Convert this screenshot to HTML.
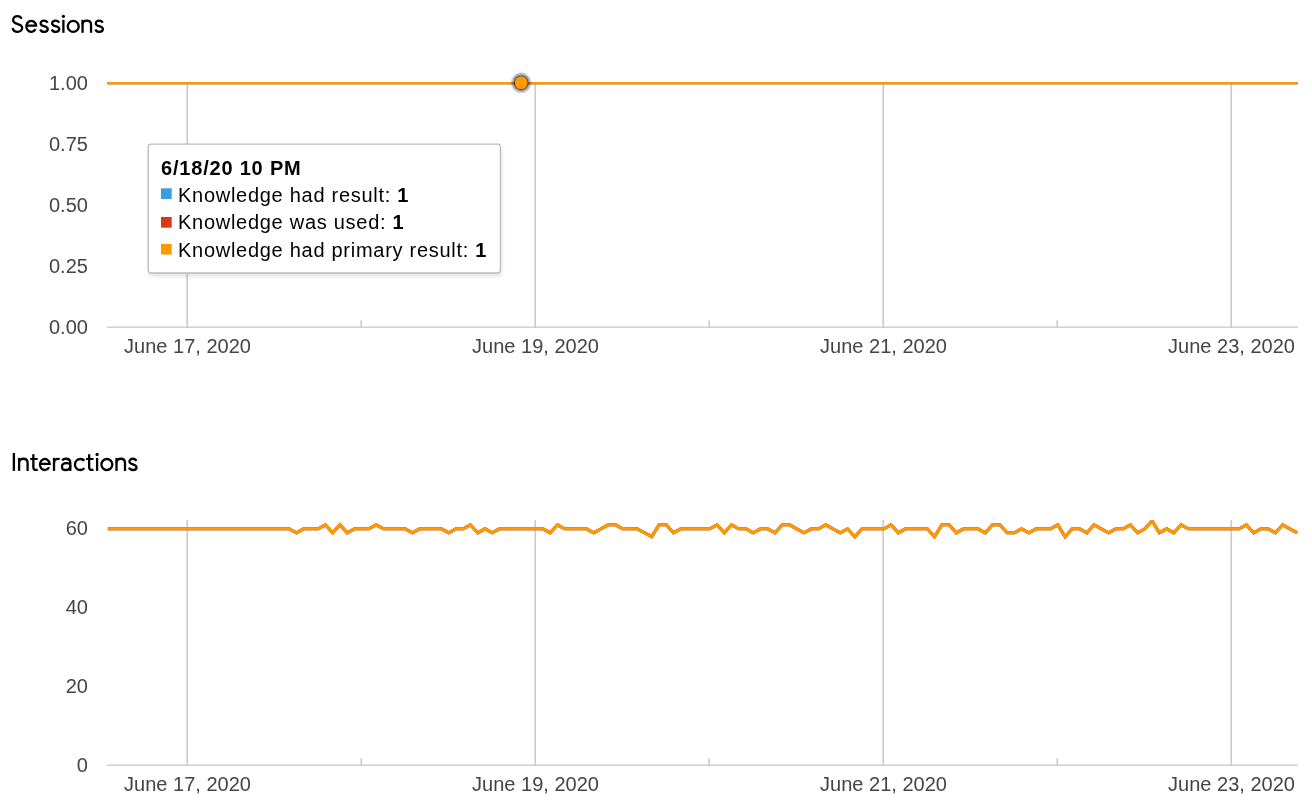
<!DOCTYPE html>
<html><head><meta charset="utf-8"><title>Charts</title>
<style>
html,body{margin:0;padding:0;background:#fff;}
body{width:1312px;height:812px;position:relative;overflow:hidden;font-family:"Liberation Sans",sans-serif;}
svg{position:absolute;left:0;top:0;}
svg text{font-family:"Liberation Sans",sans-serif;font-size:20px;fill:#444;}
svg .tt text{fill:#000;letter-spacing:0.72px;}
#wrap{position:absolute;left:0;top:0;width:1312px;height:812px;will-change:transform;background:#fff;}
</style></head><body><div id="wrap">

<svg width="1312" height="812" viewBox="0 0 1312 812">
<g role="img" aria-label="Sessions" fill="none" stroke="#000" stroke-width="2.3"><title>Sessions</title>
<g transform="translate(11.96,32.8)"><path d="M9.64,-14.1 C8.94,-15.7 7.44,-16.75 5.44,-16.75 C3.04,-16.75 1.19,-15.1 1.19,-12.9 C1.19,-10.7 2.84,-9.7 5.34,-8.9 C8.24,-8.0 10.19,-7.2 10.19,-5.1 C10.19,-2.6 8.14,-0.9 5.54,-0.9 C3.04,-0.9 1.24,-2.4 0.54,-4.6"/></g>
<g transform="translate(25.24,32.8)"><path d="M1.1,-7.1 H10.83 A4.89,5.5 0 1 0 10.2,-3.65"/></g>
<g transform="translate(39.1,32.8)"><path d="M8.4,-10.0 C7.8,-11.3 6.6,-12.13 4.9,-12.13 C3.0,-12.13 1.55,-11.0 1.55,-9.4 C1.55,-7.8 2.9,-7.2 5.0,-6.6 C7.3,-5.95 8.65,-5.3 8.65,-3.7 C8.65,-2.0 7.1,-0.9 5.0,-0.9 C3.1,-0.9 1.7,-1.8 1.1,-3.3"/></g>
<g transform="translate(50.6,32.8)"><path d="M8.4,-10.0 C7.8,-11.3 6.6,-12.13 4.9,-12.13 C3.0,-12.13 1.55,-11.0 1.55,-9.4 C1.55,-7.8 2.9,-7.2 5.0,-6.6 C7.3,-5.95 8.65,-5.3 8.65,-3.7 C8.65,-2.0 7.1,-0.9 5.0,-0.9 C3.1,-0.9 1.7,-1.8 1.1,-3.3"/></g>
<g transform="translate(62.25,32.8)"><path d="M1.15,-13 V0"/><circle cx="1.15" cy="-16.45" r="1.62" fill="#000" stroke="none"/></g>
<g transform="translate(66.7,32.8)"><ellipse cx="6.55" cy="-6.4" rx="5.45" ry="5.5"/></g>
<g transform="translate(81.5,32.8)"><path d="M1.05,-13 V0"/><path d="M1.05,-8.4 C1.05,-10.7 3.0,-12.13 5.3,-12.13 C7.9,-12.13 9.55,-10.5 9.55,-8.0 V0"/></g>
<g transform="translate(94.25,32.8)"><path d="M8.4,-10.0 C7.8,-11.3 6.6,-12.13 4.9,-12.13 C3.0,-12.13 1.55,-11.0 1.55,-9.4 C1.55,-7.8 2.9,-7.2 5.0,-6.6 C7.3,-5.95 8.65,-5.3 8.65,-3.7 C8.65,-2.0 7.1,-0.9 5.0,-0.9 C3.1,-0.9 1.7,-1.8 1.1,-3.3"/></g>
</g>
<g role="img" aria-label="Interactions" fill="none" stroke="#000" stroke-width="2.3"><title>Interactions</title>
<g transform="translate(12.78,470.9)"><path d="M1.1,-17.9 V0" stroke-width="2.35"/></g>
<g transform="translate(18.05,470.9)"><path d="M1.05,-13 V0"/><path d="M1.05,-8.4 C1.05,-10.7 3.0,-12.13 5.3,-12.13 C7.9,-12.13 9.55,-10.5 9.55,-8.0 V0"/></g>
<g transform="translate(30.2,470.9)"><path d="M3.15,-16.6 V-3.6 C3.15,-1.7 4.2,-0.95 5.6,-0.95 C6.3,-0.95 6.9,-1.1 7.4,-1.4"/><path d="M0,-11.95 H7.5" stroke-width="2.0"/></g>
<g transform="translate(38.84,470.9)"><path d="M1.1,-7.1 H10.83 A4.89,5.5 0 1 0 10.2,-3.65"/></g>
<g transform="translate(52.97,470.9)"><path d="M1.05,-13 V0"/><path d="M1.05,-8.0 C1.05,-10.5 2.9,-12.0 5.0,-12.0 C5.6,-12.0 6.2,-11.9 6.7,-11.7"/></g>
<g transform="translate(60.9,470.9)"><path d="M1.3,-10.4 C2.0,-11.5 3.4,-12.13 5.0,-12.13 C7.7,-12.13 9.4,-10.6 9.4,-8.0 V0"/><path d="M9.4,-7.0 C8.2,-7.5 7.0,-7.7 5.5,-7.7 C2.8,-7.7 1.08,-6.3 1.08,-4.25 C1.08,-2.2 2.7,-0.9 4.9,-0.9 C7.3,-0.9 9.4,-2.7 9.4,-5.2"/></g>
<g transform="translate(73.8,470.9)"><path d="M10.6,-10.1 A5.45,5.5 0 1 0 10.6,-2.7"/></g>
<g transform="translate(86.0,470.9)"><path d="M3.15,-16.6 V-3.6 C3.15,-1.7 4.2,-0.95 5.6,-0.95 C6.3,-0.95 6.9,-1.1 7.4,-1.4"/><path d="M0,-11.95 H7.5" stroke-width="2.0"/></g>
<g transform="translate(95.95,470.9)"><path d="M1.15,-13 V0"/><circle cx="1.15" cy="-16.45" r="1.62" fill="#000" stroke="none"/></g>
<g transform="translate(100.3,470.9)"><ellipse cx="6.55" cy="-6.4" rx="5.45" ry="5.5"/></g>
<g transform="translate(115.45,470.9)"><path d="M1.05,-13 V0"/><path d="M1.05,-8.4 C1.05,-10.7 3.0,-12.13 5.3,-12.13 C7.9,-12.13 9.55,-10.5 9.55,-8.0 V0"/></g>
<g transform="translate(127.87,470.9)"><path d="M8.4,-10.0 C7.8,-11.3 6.6,-12.13 4.9,-12.13 C3.0,-12.13 1.55,-11.0 1.55,-9.4 C1.55,-7.8 2.9,-7.2 5.0,-6.6 C7.3,-5.95 8.65,-5.3 8.65,-3.7 C8.65,-2.0 7.1,-0.9 5.0,-0.9 C3.1,-0.9 1.7,-1.8 1.1,-3.3"/></g>
</g>
<rect x="186.380" y="83" width="1.62" height="245.000" fill="#ccc"/>
<rect x="534.380" y="83" width="1.62" height="245.000" fill="#ccc"/>
<rect x="882.380" y="83" width="1.62" height="245.000" fill="#ccc"/>
<rect x="1230.380" y="83" width="1.62" height="245.000" fill="#ccc"/>
<rect x="360.380" y="320.300" width="1.62" height="7.7" fill="#ccc"/>
<rect x="708.380" y="320.300" width="1.62" height="7.7" fill="#ccc"/>
<rect x="1056.380" y="320.300" width="1.62" height="7.7" fill="#ccc"/>
<rect x="106.95" y="326.500" width="1191.05" height="1.38" fill="#ccc"/>
<text x="87.9" y="90" text-anchor="end">1.00</text>
<text x="87.9" y="151" text-anchor="end">0.75</text>
<text x="87.9" y="212" text-anchor="end">0.50</text>
<text x="87.9" y="273" text-anchor="end">0.25</text>
<text x="87.9" y="334" text-anchor="end">0.00</text>
<text x="187.5" y="353" text-anchor="middle">June 17, 2020</text>
<text x="187.5" y="791" text-anchor="middle">June 17, 2020</text>
<text x="535.5" y="353" text-anchor="middle">June 19, 2020</text>
<text x="535.5" y="791" text-anchor="middle">June 19, 2020</text>
<text x="883.5" y="353" text-anchor="middle">June 21, 2020</text>
<text x="883.5" y="791" text-anchor="middle">June 21, 2020</text>
<text x="1231.5" y="353" text-anchor="middle">June 23, 2020</text>
<text x="1231.5" y="791" text-anchor="middle">June 23, 2020</text>
<path d="M107.5,83.06L1297.6,83.06" stroke="#3a9fe1" stroke-width="2.18" fill="none"/>
<path d="M107.5,83.06L1297.6,83.06" stroke="#dc3912" stroke-width="2.18" fill="none"/>
<path d="M107.5,83.06L1297.6,83.06" stroke="#ff9900" stroke-width="2.18" fill="none"/>
<circle cx="521.15" cy="82.8" r="9.95" fill="none" stroke="#000" stroke-width="1.06" stroke-opacity="0.05"/>
<circle cx="521.15" cy="82.8" r="8.9" fill="none" stroke="#000" stroke-width="1.06" stroke-opacity="0.1"/>
<circle cx="521.15" cy="82.8" r="7.85" fill="none" stroke="#000" stroke-width="1.06" stroke-opacity="0.15"/>
<circle cx="521.15" cy="82.8" r="6.8" fill="none" stroke="#000" stroke-width="1.06" stroke-opacity="0.3"/>
<circle cx="521.15" cy="82.8" r="6.27" fill="#3a9fe1"/>
<circle cx="521.15" cy="82.8" r="9.95" fill="none" stroke="#000" stroke-width="1.06" stroke-opacity="0.05"/>
<circle cx="521.15" cy="82.8" r="8.9" fill="none" stroke="#000" stroke-width="1.06" stroke-opacity="0.1"/>
<circle cx="521.15" cy="82.8" r="7.85" fill="none" stroke="#000" stroke-width="1.06" stroke-opacity="0.15"/>
<circle cx="521.15" cy="82.8" r="6.8" fill="none" stroke="#000" stroke-width="1.06" stroke-opacity="0.3"/>
<circle cx="521.15" cy="82.8" r="6.27" fill="#dc3912"/>
<circle cx="521.15" cy="82.8" r="9.95" fill="none" stroke="#000" stroke-width="1.06" stroke-opacity="0.05"/>
<circle cx="521.15" cy="82.8" r="8.9" fill="none" stroke="#000" stroke-width="1.06" stroke-opacity="0.1"/>
<circle cx="521.15" cy="82.8" r="7.85" fill="none" stroke="#000" stroke-width="1.06" stroke-opacity="0.15"/>
<circle cx="521.15" cy="82.8" r="6.8" fill="none" stroke="#000" stroke-width="1.06" stroke-opacity="0.3"/>
<circle cx="521.15" cy="82.8" r="6.27" fill="#ff9900"/>
<rect x="186.380" y="520.0" width="1.62" height="246.000" fill="#ccc"/>
<rect x="534.380" y="520.0" width="1.62" height="246.000" fill="#ccc"/>
<rect x="882.380" y="520.0" width="1.62" height="246.000" fill="#ccc"/>
<rect x="1230.380" y="520.0" width="1.62" height="246.000" fill="#ccc"/>
<rect x="360.380" y="758.300" width="1.62" height="7.7" fill="#ccc"/>
<rect x="708.380" y="758.300" width="1.62" height="7.7" fill="#ccc"/>
<rect x="1056.380" y="758.300" width="1.62" height="7.7" fill="#ccc"/>
<rect x="106.95" y="764.500" width="1191.05" height="1.38" fill="#ccc"/>
<text x="87.9" y="535" text-anchor="end">60</text>
<text x="87.9" y="614" text-anchor="end">40</text>
<text x="87.9" y="693" text-anchor="end">20</text>
<text x="87.9" y="772" text-anchor="end">0</text>
<clipPath id="c2"><rect x="100" y="520.05" width="1205" height="250"/></clipPath>
<g clip-path="url(#c2)">
<path d="M107.87,528.8L115.12,528.8L122.38,528.8L129.63,528.8L136.88,528.8L144.13,528.8L151.38,528.8L158.63,528.8L165.89,528.8L173.14,528.8L180.39,528.8L187.64,528.8L194.89,528.8L202.14,528.8L209.39,528.8L216.65,528.8L223.9,528.8L231.15,528.8L238.4,528.8L245.65,528.8L252.9,528.8L260.16,528.8L267.41,528.8L274.66,528.8L281.91,528.8L289.16,528.8L296.41,532.75L303.67,528.8L310.92,528.8L318.17,528.8L325.42,524.85L332.67,532.75L339.92,524.85L347.18,532.75L354.43,528.8L361.68,528.8L368.93,528.8L376.18,524.85L383.43,528.8L390.68,528.8L397.94,528.8L405.19,528.8L412.44,532.75L419.69,528.8L426.94,528.8L434.19,528.8L441.45,528.8L448.7,532.75L455.95,528.8L463.2,528.8L470.45,524.85L477.7,532.75L484.96,528.8L492.21,532.75L499.46,528.8L506.71,528.8L513.96,528.8L521.21,528.8L528.47,528.8L535.72,528.8L542.97,528.8L550.22,532.75L557.47,524.85L564.72,528.8L571.97,528.8L579.23,528.8L586.48,528.8L593.73,532.75L600.98,528.8L608.23,524.85L615.48,524.85L622.74,528.8L629.99,528.8L637.24,528.8L644.49,532.75L651.74,536.69L658.99,524.85L666.25,524.85L673.5,532.75L680.75,528.8L688,528.8L695.25,528.8L702.5,528.8L709.76,528.8L717.01,524.85L724.26,532.75L731.51,524.85L738.76,528.8L746.01,528.8L753.26,532.75L760.52,528.8L767.77,528.8L775.02,532.75L782.27,524.85L789.52,524.85L796.77,528.8L804.03,532.75L811.28,528.8L818.53,528.8L825.78,524.85L833.03,528.8L840.28,532.75L847.54,528.8L854.79,536.69L862.04,528.8L869.29,528.8L876.54,528.8L883.79,528.8L891.05,524.85L898.3,532.75L905.55,528.8L912.8,528.8L920.05,528.8L927.3,528.8L934.55,536.69L941.81,524.85L949.06,524.85L956.31,532.75L963.56,528.8L970.81,528.8L978.06,528.8L985.32,532.75L992.57,524.85L999.82,524.85L1007.07,532.75L1014.32,532.75L1021.57,528.8L1028.83,532.75L1036.08,528.8L1043.33,528.8L1050.58,528.8L1057.83,524.85L1065.08,536.69L1072.34,528.8L1079.59,528.8L1086.84,532.75L1094.09,524.85L1101.34,528.8L1108.59,532.75L1115.84,528.8L1123.1,528.8L1130.35,524.85L1137.6,532.75L1144.85,528.8L1152.1,520.91L1159.35,532.75L1166.61,528.8L1173.86,532.75L1181.11,524.85L1188.36,528.8L1195.61,528.8L1202.86,528.8L1210.12,528.8L1217.37,528.8L1224.62,528.8L1231.87,528.8L1239.12,528.8L1246.37,524.85L1253.63,532.75L1260.88,528.8L1268.13,528.8L1275.38,532.75L1282.63,524.85L1289.88,528.8L1297.13,532.75" stroke="#3a9fe1" stroke-width="3.03" fill="none"/>
<path d="M107.87,528.8L115.12,528.8L122.38,528.8L129.63,528.8L136.88,528.8L144.13,528.8L151.38,528.8L158.63,528.8L165.89,528.8L173.14,528.8L180.39,528.8L187.64,528.8L194.89,528.8L202.14,528.8L209.39,528.8L216.65,528.8L223.9,528.8L231.15,528.8L238.4,528.8L245.65,528.8L252.9,528.8L260.16,528.8L267.41,528.8L274.66,528.8L281.91,528.8L289.16,528.8L296.41,532.75L303.67,528.8L310.92,528.8L318.17,528.8L325.42,524.85L332.67,532.75L339.92,524.85L347.18,532.75L354.43,528.8L361.68,528.8L368.93,528.8L376.18,524.85L383.43,528.8L390.68,528.8L397.94,528.8L405.19,528.8L412.44,532.75L419.69,528.8L426.94,528.8L434.19,528.8L441.45,528.8L448.7,532.75L455.95,528.8L463.2,528.8L470.45,524.85L477.7,532.75L484.96,528.8L492.21,532.75L499.46,528.8L506.71,528.8L513.96,528.8L521.21,528.8L528.47,528.8L535.72,528.8L542.97,528.8L550.22,532.75L557.47,524.85L564.72,528.8L571.97,528.8L579.23,528.8L586.48,528.8L593.73,532.75L600.98,528.8L608.23,524.85L615.48,524.85L622.74,528.8L629.99,528.8L637.24,528.8L644.49,532.75L651.74,536.69L658.99,524.85L666.25,524.85L673.5,532.75L680.75,528.8L688,528.8L695.25,528.8L702.5,528.8L709.76,528.8L717.01,524.85L724.26,532.75L731.51,524.85L738.76,528.8L746.01,528.8L753.26,532.75L760.52,528.8L767.77,528.8L775.02,532.75L782.27,524.85L789.52,524.85L796.77,528.8L804.03,532.75L811.28,528.8L818.53,528.8L825.78,524.85L833.03,528.8L840.28,532.75L847.54,528.8L854.79,536.69L862.04,528.8L869.29,528.8L876.54,528.8L883.79,528.8L891.05,524.85L898.3,532.75L905.55,528.8L912.8,528.8L920.05,528.8L927.3,528.8L934.55,536.69L941.81,524.85L949.06,524.85L956.31,532.75L963.56,528.8L970.81,528.8L978.06,528.8L985.32,532.75L992.57,524.85L999.82,524.85L1007.07,532.75L1014.32,532.75L1021.57,528.8L1028.83,532.75L1036.08,528.8L1043.33,528.8L1050.58,528.8L1057.83,524.85L1065.08,536.69L1072.34,528.8L1079.59,528.8L1086.84,532.75L1094.09,524.85L1101.34,528.8L1108.59,532.75L1115.84,528.8L1123.1,528.8L1130.35,524.85L1137.6,532.75L1144.85,528.8L1152.1,520.91L1159.35,532.75L1166.61,528.8L1173.86,532.75L1181.11,524.85L1188.36,528.8L1195.61,528.8L1202.86,528.8L1210.12,528.8L1217.37,528.8L1224.62,528.8L1231.87,528.8L1239.12,528.8L1246.37,524.85L1253.63,532.75L1260.88,528.8L1268.13,528.8L1275.38,532.75L1282.63,524.85L1289.88,528.8L1297.13,532.75" stroke="#dc3912" stroke-width="3.03" fill="none"/>
<path d="M107.87,528.8L115.12,528.8L122.38,528.8L129.63,528.8L136.88,528.8L144.13,528.8L151.38,528.8L158.63,528.8L165.89,528.8L173.14,528.8L180.39,528.8L187.64,528.8L194.89,528.8L202.14,528.8L209.39,528.8L216.65,528.8L223.9,528.8L231.15,528.8L238.4,528.8L245.65,528.8L252.9,528.8L260.16,528.8L267.41,528.8L274.66,528.8L281.91,528.8L289.16,528.8L296.41,532.75L303.67,528.8L310.92,528.8L318.17,528.8L325.42,524.85L332.67,532.75L339.92,524.85L347.18,532.75L354.43,528.8L361.68,528.8L368.93,528.8L376.18,524.85L383.43,528.8L390.68,528.8L397.94,528.8L405.19,528.8L412.44,532.75L419.69,528.8L426.94,528.8L434.19,528.8L441.45,528.8L448.7,532.75L455.95,528.8L463.2,528.8L470.45,524.85L477.7,532.75L484.96,528.8L492.21,532.75L499.46,528.8L506.71,528.8L513.96,528.8L521.21,528.8L528.47,528.8L535.72,528.8L542.97,528.8L550.22,532.75L557.47,524.85L564.72,528.8L571.97,528.8L579.23,528.8L586.48,528.8L593.73,532.75L600.98,528.8L608.23,524.85L615.48,524.85L622.74,528.8L629.99,528.8L637.24,528.8L644.49,532.75L651.74,536.69L658.99,524.85L666.25,524.85L673.5,532.75L680.75,528.8L688,528.8L695.25,528.8L702.5,528.8L709.76,528.8L717.01,524.85L724.26,532.75L731.51,524.85L738.76,528.8L746.01,528.8L753.26,532.75L760.52,528.8L767.77,528.8L775.02,532.75L782.27,524.85L789.52,524.85L796.77,528.8L804.03,532.75L811.28,528.8L818.53,528.8L825.78,524.85L833.03,528.8L840.28,532.75L847.54,528.8L854.79,536.69L862.04,528.8L869.29,528.8L876.54,528.8L883.79,528.8L891.05,524.85L898.3,532.75L905.55,528.8L912.8,528.8L920.05,528.8L927.3,528.8L934.55,536.69L941.81,524.85L949.06,524.85L956.31,532.75L963.56,528.8L970.81,528.8L978.06,528.8L985.32,532.75L992.57,524.85L999.82,524.85L1007.07,532.75L1014.32,532.75L1021.57,528.8L1028.83,532.75L1036.08,528.8L1043.33,528.8L1050.58,528.8L1057.83,524.85L1065.08,536.69L1072.34,528.8L1079.59,528.8L1086.84,532.75L1094.09,524.85L1101.34,528.8L1108.59,532.75L1115.84,528.8L1123.1,528.8L1130.35,524.85L1137.6,532.75L1144.85,528.8L1152.1,520.91L1159.35,532.75L1166.61,528.8L1173.86,532.75L1181.11,524.85L1188.36,528.8L1195.61,528.8L1202.86,528.8L1210.12,528.8L1217.37,528.8L1224.62,528.8L1231.87,528.8L1239.12,528.8L1246.37,524.85L1253.63,532.75L1260.88,528.8L1268.13,528.8L1275.38,532.75L1282.63,524.85L1289.88,528.8L1297.13,532.75" stroke="#ff9900" stroke-width="3.03" fill="none"/>
</g>
<defs><filter id="sh" x="-10%" y="-20%" width="120%" height="150%"><feGaussianBlur in="SourceAlpha" stdDeviation="2.6"/><feOffset dx="1.2" dy="2.6"/><feComponentTransfer><feFuncA type="linear" slope="0.13"/></feComponentTransfer></filter></defs>
<rect x="148.3" y="144.2" width="352.1" height="128.8" rx="2.67" fill="#000" filter="url(#sh)"/>
<rect x="148.3" y="144.2" width="352.1" height="128.8" rx="2.67" fill="#fff" stroke="#bdbdbd" stroke-width="1.333"/>
<g class="tt">
<text x="161" y="175" font-weight="bold" style="letter-spacing:0.8px">6/18/20 10 PM</text>
<rect x="161" y="188.3" width="10.7" height="10.67" fill="#3a9fe1"/>
<text x="178" y="202">Knowledge had result: <tspan font-weight="bold">1</tspan></text>
<rect x="161" y="217" width="10.7" height="10.67" fill="#dc3912"/>
<text x="178" y="229">Knowledge was used: <tspan font-weight="bold">1</tspan></text>
<rect x="161" y="243.9" width="10.7" height="10.67" fill="#ff9900"/>
<text x="178" y="257">Knowledge had primary result: <tspan font-weight="bold">1</tspan></text>
</g>
</svg>
</div></body></html>
